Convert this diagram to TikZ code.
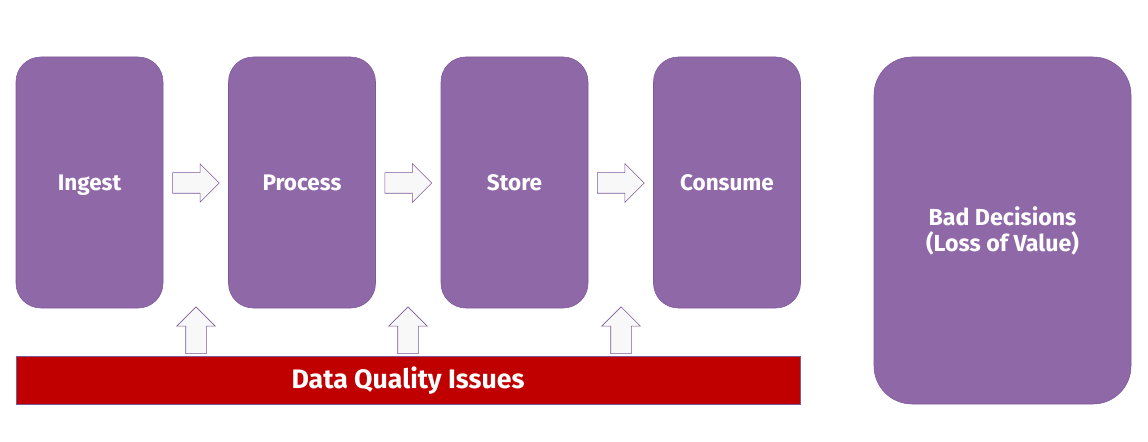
\documentclass[tikz,border=0pt]{standalone}
\usepackage{fontspec}
\setmainfont{Fira Sans}
\usetikzlibrary{shapes.arrows}
\definecolor{boxPurple}{RGB}{143,104,168}
\definecolor{edgePurple}{RGB}{125,88,155}
\definecolor{issueRed}{RGB}{192,0,0}
\definecolor{arrFill}{RGB}{248,248,248}
\tikzset{
	stage/.style={
		draw=edgePurple,
		fill=boxPurple,
		rounded corners=0.62cm,
		minimum width=3.675cm,
		minimum height=6.275cm,
		align=center,
		text=white,
		font=\fontsize{16}{19}\selectfont\bfseries
	},
	oneline/.style={text height=2.4ex, text depth=0.25ex},
	blockarr/.style={
		single arrow,
		draw=edgePurple,
		fill=arrFill,
		minimum height=1.17cm,
		minimum width=0.95cm,
		single arrow head extend=0.225cm,
		inner sep=0.25cm,
		outer sep=0pt
	},
	uparr/.style={blockarr, shape border rotate=90}
}

\begin{document}
\begin{tikzpicture}[x=1cm, y=1cm]
		\useasboundingbox (0,0) rectangle (28.7,11.025);
		\node[stage, oneline] (ingest) at (2.2375,6.4625) {Ingest};
		\node[stage, oneline] (process) at (7.55,6.4625) {Process};
		\node[stage, oneline] (store) at (12.8625,6.4625) {Store};
		\node[stage, oneline] (consume) at (18.175,6.4625) {Consume};
		\node[stage, minimum width=6.425cm, minimum height=8.675cm, rounded corners=0.95cm,
			font=\fontsize{16.5}{18.5}\selectfont\bfseries] (bad) at (25.0625,5.2625) {Bad Decisions\\(Loss of Value)};
		\node[draw=edgePurple, fill=issueRed, minimum width=19.6cm, minimum height=1.2cm, text=white,
			text height=2.6ex, text depth=0.25ex,
			font=\fontsize{19}{22}\selectfont\bfseries] (issues) at (10.2,1.525) {Data Quality Issues};
		% flow between the stages
		\node[blockarr] (a1) at (4.77,6.45) {};
		\node[blockarr] (a2) at (10.08,6.45) {};
		\node[blockarr] (a3) at (15.39,6.45) {};
		% issues pushing up into the pipeline
		\node[uparr] (u1) at (4.9,2.64) {};
		\node[uparr] (u2) at (10.2,2.64) {};
		\node[uparr] (u3) at (15.525,2.64) {};
	\end{tikzpicture}
\end{document}
